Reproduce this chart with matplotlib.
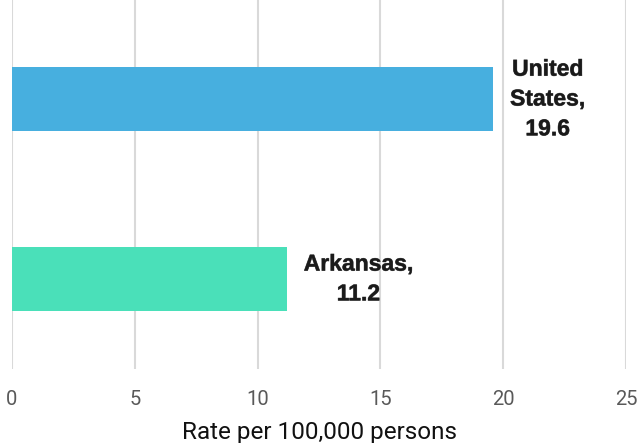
import matplotlib
matplotlib.use("Agg")
import matplotlib.pyplot as plt
import matplotlib.patheffects as pe

categories = ["Arkansas", "United States"]
values = [11.2, 19.6]
colors = ["#4ae0b9", "#47afdf"]
labels = ["Arkansas,\n11.2", "United\nStates,\n19.6"]
xticks = [0, 5, 10, 15, 20, 25]

fig = plt.figure(figsize=(6.38, 4.43), dpi=100)
ax = fig.add_axes([12/638, 1 - 369/443, 614/638, 369/443])

ypos = list(range(len(categories)))
ax.barh(ypos, values, height=0.356, color=colors, zorder=3)
ax.set_xlim(0, 25)
ax.set_ylim(-0.5, 1.55)
ax.set_yticks([])
ax.set_xticks(xticks)
ax.set_xticklabels([str(t) for t in xticks], fontfamily="Roboto", fontsize=14.5, color="#595959")
ax.tick_params(axis="x", length=0, pad=15)
ax.grid(axis="x", color="#d9d9d9", linewidth=1.5, zorder=0)
for s in ax.spines.values():
    s.set_visible(False)
ax.set_xlabel("Rate per 100,000 persons", fontfamily="Roboto", fontsize=17.5, color="#111111", labelpad=9)

for y, v, lab in zip(ypos, values, labels):
    t = ax.annotate(lab, xy=(v, y), xytext=(12, 0), textcoords="offset points",
                    ha="left", va="center", multialignment="center",
                    fontfamily="Liberation Sans", fontweight="bold", fontsize=16.5,
                    color="#1a1a1a", linespacing=1.38, zorder=4)
    t.set_path_effects([pe.Stroke(linewidth=0.5, foreground="#555555"), pe.Normal()])

fig.savefig("out.png", dpi=100)
